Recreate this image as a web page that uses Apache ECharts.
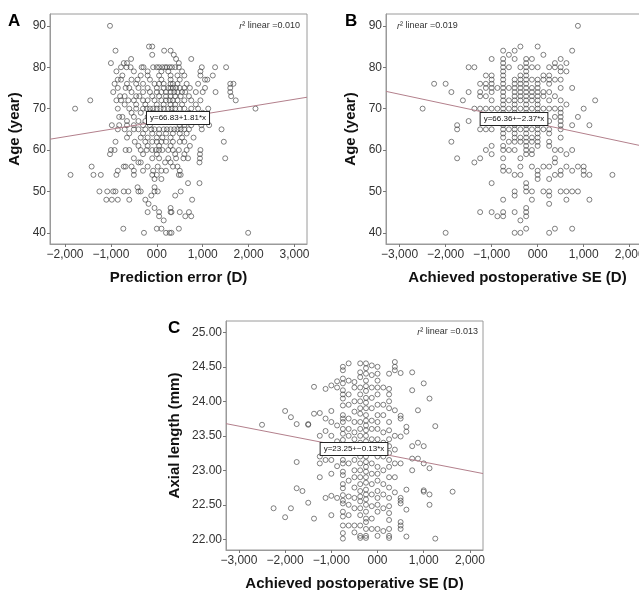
<!DOCTYPE html>
<html>
<head>
<meta charset="utf-8">
<script src="https://cdn.jsdelivr.net/npm/echarts@6/dist/echarts.min.js"></script>
<style>
  html, body { margin: 0; padding: 0; background: #fff; }
  #main { width: 639px; height: 590px; }
</style>
</head>
<body>
<div id="main"></div>
<script>
// ticks and labels
var xTicksA = [-2, -1, 0, 1, 2, 3];
var xLabelsA = ['\u22122,000', '\u22121,000', '000', '1,000', '2,000', '3,000'];
var xTicksBC = [-3, -2, -1, 0, 1, 2];
var xLabelsBC = ['\u22123,000', '\u22122,000', '\u22121,000', '000', '1,000', '2,000'];
var yTicksAge = [40, 50, 60, 70, 80, 90];
var yTicksAxial = [22, 22.5, 23, 23.5, 24, 24.5, 25];

// regression fits [intercept, slope]
var fitA = [66.83, 1.81];
var fitB = [66.36, -2.37];
var fitC = [23.25, -0.13];

// A: prediction error vs age  -> each row: [age, x1, x2, ...]
var ageRowsA = [
    [90, -1.02],
    [85, -0.17, -0.10],
    [84, -0.90, 0.16, 0.30],
    [83, -0.10, 0.37],
    [82, -0.56, 0.42, 0.75],
    [81, -1.00, -0.72, -0.65, 0.48],
    [80, -0.78, -0.66, -0.57, -0.33, -0.29, -0.08, 0.0, 0.05, 0.12, 0.18, 0.22, 0.28, 0.33, 0.40, 0.48, 0.98, 1.27, 1.51],
    [79, -0.88, -0.5, -0.2, 0.1, 0.25, 0.55, 0.95],
    [78, -0.75, -0.35, -0.2, 0.05, 0.3, 0.45, 0.6, 0.95, 1.22],
    [77, -0.85, -0.78, -0.55, -0.42, -0.15, 0.1, 0.3, 0.5, 1.05, 1.1],
    [76, -0.92, -0.65, -0.45, -0.3, -0.05, 0.05, 0.15, 0.3, 0.35, 0.45, 0.65, 0.9, 1.6, 1.67],
    [75, -0.85, -0.68, -0.6, -0.4, -0.2, 0.0, 0.15, 0.25, 0.3, 0.35, 0.42, 0.5, 0.6, 0.72, 1.05, 1.6],
    [74, -0.95, -0.55, -0.3, -0.15, 0.0, 0.1, 0.2, 0.3, 0.38, 0.45, 0.55, 0.62, 0.85, 1.0, 1.28, 1.6],
    [73, -0.8, -0.7, -0.45, -0.38, -0.1, 0.05, 0.2, 0.3, 0.4, 0.52, 0.7, 1.62],
    [72, -1.45, -0.88, -0.78, -0.62, -0.5, -0.3, -0.2, -0.05, 0.1, 0.2, 0.28, 0.35, 0.45, 0.6, 0.75, 0.95, 1.72],
    [71, -0.7, -0.45, -0.25, 0.0, 0.15, 0.3, 0.4, 0.55, 0.85],
    [70, -1.78, -0.85, -0.6, -0.45, -0.3, -0.22, -0.15, -0.08, 0.0, 0.08, 0.15, 0.25, 0.32, 0.4, 0.5, 0.6, 0.75, 0.9, 1.12, 2.15],
    [69, -0.55, -0.35, -0.1, 0.35, 0.7, 1.0],
    [68, -0.82, -0.75, -0.5, -0.2, 0.0, 0.1, 0.3, 0.45, 0.6, 0.85],
    [67, -0.65, -0.4, -0.25, 0.5, 0.7, 1.05],
    [66, -0.98, -0.82, -0.65, -0.5, -0.3, -0.15, 0.5, 0.6, 0.75, 0.97, 1.14],
    [65, -0.85, -0.7, -0.5, -0.4, -0.25, -0.12, -0.05, 0.05, 0.15, 0.22, 0.3, 0.38, 0.45, 0.52, 0.6, 0.7, 0.98, 1.41],
    [64, -0.6, -0.3, -0.1, 0.05, 0.2, 0.35, 0.5, 0.65],
    [63, -0.65, -0.35, -0.2, 0.0, 0.12, 0.3, 0.55, 0.8],
    [62, -0.9, -0.48, -0.25, -0.1, 0.0, 0.1, 0.2, 0.35, 0.5, 0.6, 1.46],
    [61, -0.4, -0.2, 0.05, 0.3, 0.72],
    [60, -1.0, -0.92, -0.68, -0.6, -0.35, -0.22, -0.1, -0.02, 0.05, 0.12, 0.25, 0.35, 0.48, 0.65, 0.95],
    [59, -1.02, -0.3, 0.0, 0.4, 0.6, 0.94],
    [58, -0.5, -0.1, 0.05, 0.25, 0.42, 0.58, 0.68, 0.94, 1.49],
    [57, -0.4, -0.35, 0.18, 0.3, 0.93],
    [56, -1.42, -0.72, -0.68, -0.55, -0.2, 0.02, 0.35, 0.45],
    [55, -0.85, -0.5, -0.3, -0.08, 0.1, 0.2, 0.5],
    [54, -1.88, -1.38, -1.22, -0.88, -0.5, -0.1, 0.0, 0.48, 0.52],
    [53, -0.05, 0.1],
    [52, 0.68, 0.93],
    [51, -0.42, -0.05],
    [50, -1.25, -1.08, -0.95, -0.9, -0.72, -0.62, -0.4, -0.35, -0.05, 0.02, 0.52],
    [49, -0.12, 0.4],
    [48, -1.1, -0.98, -0.85, -0.6, -0.25, 0.77],
    [47, -0.18],
    [46, -0.05, 0.3],
    [45, -0.2, 0.05, 0.3, 0.32, 0.5, 0.7],
    [44, 0.05, 0.62, 0.75],
    [43, 0.15],
    [41, -0.73, 0.0, 0.1, 0.48],
    [40, -0.28, 0.2, 0.28, 0.32, 1.99]
];

// B: achieved SE vs age -> [age, x1, x2, ...]
var ageRowsB = [
    [90, 0.875],
    [85, -0.375, 0],
    [84, -0.75, -0.5, 0.75],
    [83, -0.625, 0.125],
    [82, -1.0, -0.75, -0.5, -0.25, -0.125, 0.5],
    [81, -0.75, -0.25, 0.375, 0.625],
    [80, -1.5, -1.375, -0.75, -0.625, -0.375, -0.25, -0.125, 0, 0.25, 0.375, 0.5],
    [79, -0.75, -0.25, 0.5, 0.625],
    [78, -1.125, -1.0, -0.75, -0.375, -0.25, 0.125, 0.25],
    [77, -1.0, -0.75, -0.5, -0.375, -0.25, -0.125, 0, 0.125, 0.25, 0.375, 0.5],
    [76, -2.25, -2.0, -1.25, -1.125, -1.0, -0.75, -0.5, -0.375, -0.25, 0, 0.25],
    [75, -1.125, -1.0, -0.875, -0.75, -0.625, -0.5, -0.375, -0.25, -0.125, 0, 0.5, 0.75],
    [74, -1.875, -1.5, -1.25, -1.0, -0.75, -0.5, -0.375, -0.25, -0.125, 0, 0.125, 0.25],
    [73, -1.25, -1.125, -0.75, -0.5, -0.375, -0.25, -0.125, 0, 0.125, 0.375],
    [72, -1.625, -1.0, -0.75, -0.625, -0.5, -0.375, -0.25, -0.125, 0, 0.25, 0.5, 1.25],
    [71, -0.75, -0.5, -0.25, 0, 0.625],
    [70, -2.5, -1.375, -1.25, -1.125, -1.0, -0.875, -0.75, -0.625, -0.5, -0.375, -0.25, -0.125, 0, 0.125, 0.25, 0.375, 0.5, 1.0],
    [69, -0.75, -0.5, -0.25, 0, 0.5],
    [68, -0.25, 0, 0.375, 0.5, 0.875],
    [67, -1.5, -0.75, -0.5, -0.375, -0.25, -0.125, 0, 0.25, 0.5],
    [66, -1.75, -0.75, -0.5, -0.25, 0, 0.5, 0.75, 1.125],
    [65, -1.75, -1.25, -1.125, -1.0, -0.75, -0.625, -0.5, -0.375, -0.25, -0.125, 0, 0.125, 0.25, 0.5],
    [64, -0.75, -0.5, -0.25, 0, 0.25],
    [63, -0.75, -0.5, -0.375, -0.25, -0.125, 0, 0.5],
    [62, -1.875, -0.625, -0.5, -0.375, -0.25, -0.125, 0, 0.25],
    [61, -1.0, -0.75, -0.25, 0, 0.25],
    [60, -1.125, -0.75, -0.625, -0.5, -0.25, -0.125, 0.375, 0.5, 0.75],
    [59, -1.0, -0.25, -0.125, 0.625],
    [58, -1.75, -1.25, -0.75, -0.375, 0.375],
    [57, -1.375, 0.375],
    [56, -0.75, -0.375, -0.125, 0.125, 0.25, 0.625, 0.875, 1.0],
    [55, -0.75, -0.625, 0, 0.5, 0.75, 1.0],
    [54, -0.5, -0.375, 0, 0.375, 0.5, 1.0, 1.125, 1.625],
    [53, 0, 0.25],
    [52, -1.0, -0.25],
    [51, -0.25],
    [50, -0.5, -0.25, -0.125, 0.125, 0.25, 0.5, 0.625, 0.75, 0.875],
    [49, -0.5, 0.25],
    [48, -0.75, -0.125, 0.625, 1.125],
    [47, 0.25],
    [46, -0.25],
    [45, -1.25, -1.0, -0.75, -0.5, -0.25],
    [44, -0.875, -0.75, -0.25],
    [43, -0.375],
    [41, -0.25, 0.375, 0.75],
    [40, -2.0, -0.5, -0.375, 0.25]
];

// C: achieved SE vs axial length -> each column: [x, y1, y2, ...]
var seColsC = [
    [-2.5, 23.66],
    [-2.25, 22.45],
    [-2.0, 23.86, 22.32],
    [-1.875, 23.77, 22.45],
    [-1.75, 23.67, 23.12, 22.74],
    [-1.625, 22.70],
    [-1.5, 23.67, 23.66, 22.53],
    [-1.375, 24.21, 23.82, 22.30],
    [-1.25, 23.83, 23.50, 23.20, 23.10, 22.90],
    [-1.125, 24.18, 23.75, 23.57, 23.15, 22.60],
    [-1.0, 24.23, 23.86, 23.70, 23.50, 23.30, 23.15, 22.95, 22.63, 22.35],
    [-0.875, 24.29, 24.20, 23.65, 23.42, 23.06, 22.60],
    [-0.75, 24.50, 24.45, 24.33, 24.26, 24.16, 24.10, 24.04, 23.94, 23.80, 23.75, 23.70, 23.60, 23.53, 23.44, 23.34, 23.25, 23.15, 23.10, 22.98, 22.93, 22.80, 22.74, 22.64, 22.56, 22.52, 22.40, 22.33, 22.20, 22.09, 22.01],
    [-0.625, 24.55, 24.30, 24.10, 23.95, 23.75, 23.60, 23.50, 23.30, 23.10, 22.85, 22.62, 22.50, 22.35, 22.20],
    [-0.5, 24.28, 24.20, 24.00, 23.85, 23.70, 23.55, 23.45, 23.35, 23.15, 23.00, 22.90, 22.75, 22.60, 22.45, 22.20, 22.10],
    [-0.375, 24.55, 24.42, 24.35, 24.20, 24.10, 24.00, 23.90, 23.82, 23.70, 23.60, 23.50, 23.40, 23.30, 23.20, 23.10, 23.00, 22.90, 22.80, 22.70, 22.62, 22.55, 22.45, 22.35, 22.20, 22.05, 22.02],
    [-0.25, 24.55, 24.48, 24.40, 24.30, 24.22, 24.15, 24.05, 23.98, 23.90, 23.80, 23.72, 23.65, 23.58, 23.50, 23.42, 23.35, 23.28, 23.20, 23.12, 23.05, 22.98, 22.90, 22.82, 22.72, 22.65, 22.58, 22.50, 22.40, 22.30, 22.25, 22.15, 22.05, 22.02],
    [-0.125, 24.52, 24.38, 24.20, 24.05, 23.90, 23.72, 23.60, 23.45, 23.25, 23.10, 22.95, 22.80, 22.65, 22.48, 22.30, 22.15],
    [0, 24.50, 24.40, 24.30, 24.20, 24.10, 23.95, 23.80, 23.70, 23.60, 23.45, 23.30, 23.20, 23.05, 22.95, 22.85, 22.70, 22.60, 22.50, 22.40, 22.15, 22.05],
    [0.125, 24.20, 23.95, 23.80, 23.55, 23.40, 23.20, 23.00, 22.80, 22.65, 22.45, 22.12],
    [0.25, 24.40, 24.18, 24.10, 24.00, 23.90, 23.70, 23.58, 23.45, 23.35, 23.25, 23.15, 23.05, 22.90, 22.75, 22.60, 22.48, 22.38, 22.28, 22.15, 22.05, 22.02],
    [0.375, 24.57, 24.50, 24.45, 23.87, 23.50, 23.30, 23.10, 22.90, 22.68],
    [0.5, 24.41, 23.79, 23.75, 23.49, 23.10, 22.60, 22.56, 22.52, 22.25, 22.20, 22.15],
    [0.625, 23.63, 23.56, 22.72, 22.43, 22.04],
    [0.75, 24.42, 24.16, 23.35, 23.17, 23.00],
    [0.875, 23.87, 23.40, 23.17],
    [1.0, 24.26, 23.35, 23.10, 22.71, 22.69],
    [1.125, 24.04, 23.03, 22.65, 22.50],
    [1.25, 23.64, 22.01],
    [1.625, 22.69]
];

function rowsToPoints(rows) {
    var pts = [];
    rows.forEach(function (r) {
        for (var i = 1; i < r.length; i++) pts.push([r[i], r[0]]);
    });
    return pts;
}
function colsToPoints(cols) {
    var pts = [];
    cols.forEach(function (c) {
        for (var i = 1; i < c.length; i++) pts.push([c[0], c[i]]);
    });
    return pts;
}
function fitLine(fit, x0, x1) {
    return [[x0, fit[0] + fit[1] * x0], [x1, fit[0] + fit[1] * x1]];
}

var FONT = 'Arial, "Liberation Sans", sans-serif';
var frame = '#9a9a9a';

// axis ranges
var rangeA = { x: [-2.327, 3.272], y: [37.3, 92.86] };
var rangeB = { x: [-3.296, 2.42], y: [37.3, 92.86] };
var rangeC = { x: [-3.28, 2.283], y: [21.845, 25.164] };

function xAxisCfg(gi, range, ticks, labels, name) {
    return {
        type: 'value', gridIndex: gi, min: range[0], max: range[1],
        name: name, nameLocation: 'middle', nameGap: 26,
        nameTextStyle: { fontFamily: FONT, fontSize: 15, fontWeight: 'bold', color: '#111' },
        axisLine: { show: true, onZero: false, lineStyle: { color: frame, width: 1 } },
        axisTick: { show: true, length: 3, customValues: ticks, lineStyle: { color: '#777' } },
        axisLabel: {
            customValues: ticks, margin: 5, fontFamily: FONT, fontSize: 12, color: '#333',
            formatter: function (v) { return labels[ticks.indexOf(v)]; }
        },
        splitLine: { show: false }
    };
}
function yAxisCfg(gi, range, ticks, fmt, name, gap) {
    return {
        type: 'value', gridIndex: gi, min: range[0], max: range[1],
        name: name, nameLocation: 'middle', nameGap: gap, nameRotate: 90,
        nameTextStyle: { fontFamily: FONT, fontSize: 15, fontWeight: 'bold', color: '#111' },
        axisLine: { show: true, onZero: false, lineStyle: { color: frame, width: 1 } },
        axisTick: { show: true, length: 3, customValues: ticks, lineStyle: { color: '#777' } },
        axisLabel: { customValues: ticks, margin: 4, fontFamily: FONT, fontSize: 12, color: '#333', formatter: fmt },
        splitLine: { show: false }
    };
}
function scatter(gi, data) {
    return {
        type: 'scatter', xAxisIndex: gi, yAxisIndex: gi, data: data,
        symbol: 'circle', symbolSize: 5, silent: true,
        itemStyle: { color: 'rgba(0,0,0,0)', borderColor: '#444', borderWidth: 0.85 }
    };
}
function regLine(gi, fit, range) {
    return {
        type: 'line', xAxisIndex: gi, yAxisIndex: gi, data: fitLine(fit, range.x[0], range.x[1]),
        symbol: 'none', silent: true, z: 3,
        lineStyle: { color: '#b3808c', width: 1 }
    };
}
function eqBox(x, y, text) {
    return {
        type: 'text', x: x, y: y, z: 100,
        style: {
            text: text, font: '8px ' + FONT, fill: '#111', align: 'center', verticalAlign: 'middle',
            backgroundColor: '#fff', borderColor: '#222', borderWidth: 1, padding: [2, 3, 2, 3]
        }
    };
}
function r2Text(x, y, val, align) {
    return {
        type: 'text', x: x, y: y, z: 100,
        style: {
            text: '{i|r}\u00b2 linear =' + val, font: '9px ' + FONT, fill: '#333',
            align: align, verticalAlign: 'middle',
            rich: { i: { fontStyle: 'italic', font: 'italic 9px ' + FONT, fill: '#333' } }
        }
    };
}
function letter(x, y, t) {
    return { type: 'text', x: x, y: y, style: { text: t, font: 'bold 17px ' + FONT, fill: '#000' } };
}

var chart = echarts.init(document.getElementById('main'), null, { renderer: 'canvas' });
var option = {
    animation: false,
    backgroundColor: '#fff',
    grid: [
        { left: 50, top: 14, width: 257, height: 230, show: true, borderColor: frame, borderWidth: 1, containLabel: false, outerBoundsMode: 'none' },
        { left: 386, top: 14, width: 263, height: 230, show: true, borderColor: frame, borderWidth: 1, containLabel: false, outerBoundsMode: 'none' },
        { left: 226, top: 321, width: 257, height: 229, show: true, borderColor: frame, borderWidth: 1, containLabel: false, outerBoundsMode: 'none' }
    ],
    xAxis: [
        xAxisCfg(0, rangeA.x, xTicksA, xLabelsA, 'Prediction error (D)'),
        xAxisCfg(1, rangeB.x, xTicksBC, xLabelsBC, 'Achieved postoperative SE (D)'),
        xAxisCfg(2, rangeC.x, xTicksBC, xLabelsBC, 'Achieved postoperative SE (D)')
    ],
    yAxis: [
        yAxisCfg(0, rangeA.y, yTicksAge, function (v) { return v; }, 'Age (year)', 28),
        yAxisCfg(1, rangeB.y, yTicksAge, function (v) { return v; }, 'Age (year)', 28),
        yAxisCfg(2, rangeC.y, yTicksAxial, function (v) { return v.toFixed(2); }, 'Axial length (mm)', 44)
    ],
    series: [
        regLine(0, fitA, rangeA),
        scatter(0, rowsToPoints(ageRowsA)),
        regLine(1, fitB, rangeB),
        scatter(1, rowsToPoints(ageRowsB)),
        regLine(2, fitC, rangeC),
        scatter(2, colsToPoints(seColsC))
    ],
    graphic: [
        letter(8, 13, 'A'),
        letter(345, 13, 'B'),
        letter(168, 320, 'C'),
        r2Text(300, 26, '0.010', 'right'),
        r2Text(397, 26, '0.019', 'left'),
        r2Text(478, 332, '0.013', 'right'),
        eqBox(178, 118, 'y=66.83+1.81*x'),
        eqBox(514, 119, 'y=66.36+\u22122.37*x'),
        eqBox(354, 449, 'y=23.25+\u22120.13*x')
    ]
};
chart.setOption(option);
</script>
</body>
</html>
